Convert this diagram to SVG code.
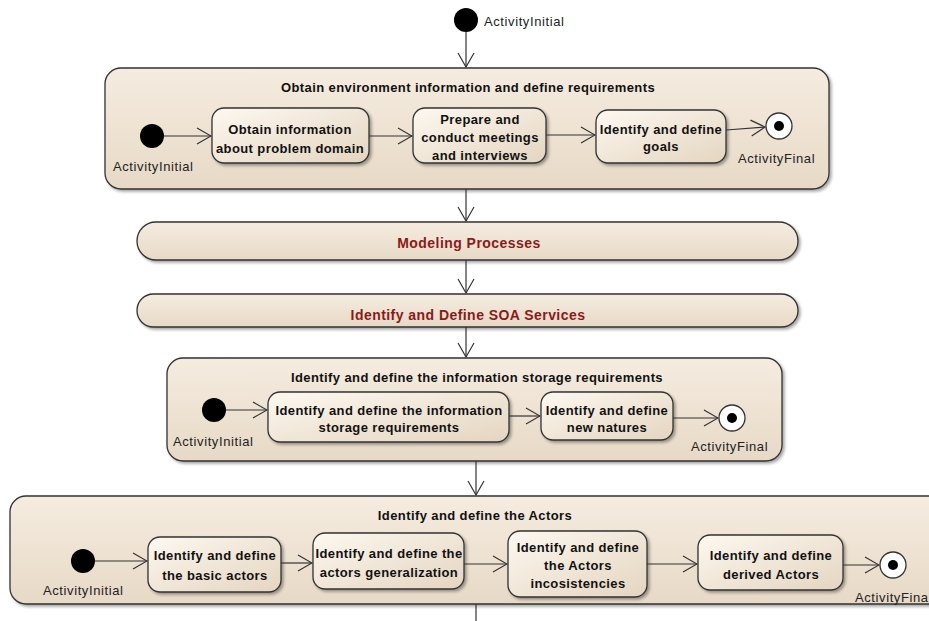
<svg xmlns="http://www.w3.org/2000/svg" width="929" height="621" viewBox="0 0 929 621">
<defs>
<linearGradient id="gC" x1="0" y1="0" x2="0" y2="1"><stop offset="0" stop-color="#f5ece0"/><stop offset="1" stop-color="#e7d9c6"/></linearGradient>
<linearGradient id="gB" x1="0" y1="0" x2="1" y2="1"><stop offset="0" stop-color="#fdf8f0"/><stop offset="1" stop-color="#e4d5c0"/></linearGradient>
<filter id="sh" x="-5%" y="-5%" width="110%" height="120%"><feDropShadow dx="2" dy="2" stdDeviation="1.5" flood-color="#000" flood-opacity="0.35"/></filter>
<marker id="ar" markerUnits="userSpaceOnUse" markerWidth="16" markerHeight="20" refX="15" refY="9" orient="auto"><path d="M1,1 L15,9 L1,17" fill="none" stroke="#333" stroke-width="1.2"/></marker>
</defs>
<style>
.cont{fill:url(#gC);stroke:#333;stroke-width:1.3;filter:url(#sh)}
.box{fill:url(#gB);stroke:#333;stroke-width:1.3;filter:url(#sh)}
.ini{fill:#000}
.fin{fill:#fff;stroke:#333;stroke-width:1.3}
.t{font-family:"Liberation Sans",Arial,sans-serif;font-size:13px;letter-spacing:0.4px;font-weight:bold;fill:#111;text-anchor:middle}
.bt{font-family:"Liberation Sans",Arial,sans-serif;font-size:13px;letter-spacing:0.4px;font-weight:bold;fill:#111;text-anchor:middle}
.lb{font-family:"Liberation Sans",Arial,sans-serif;font-size:13px;letter-spacing:0.6px;fill:#222}
.red{font-family:"Liberation Sans",Arial,sans-serif;font-size:14px;letter-spacing:0.45px;font-weight:bold;fill:#8b1a1a;text-anchor:middle}
.c{fill:none;stroke:#333;stroke-width:1.2}
</style>
<rect width="929" height="621" fill="#fff"/>

<g id="initTop"><circle class="ini" cx="466" cy="20" r="12"/><text class="lb" x="484" y="26">ActivityInitial</text></g>

<g id="obtainEnv">
<rect class="cont" x="105" y="68" width="724" height="121" rx="16"/>
<text class="t" x="468" y="92">Obtain environment information and define requirements</text>
</g>
<g id="init1"><circle class="ini" cx="152" cy="136" r="12"/><text class="lb" x="113" y="171">ActivityInitial</text></g>
<g id="obtainInfo"><rect class="box" x="212" y="108" width="157" height="55" rx="12"/><text class="bt" x="290" y="134">Obtain information</text><text class="bt" x="290" y="153">about problem domain</text></g>
<g id="prepare"><rect class="box" x="413" y="108" width="133" height="55" rx="12"/><text class="bt" x="480" y="124">Prepare and</text><text class="bt" x="480" y="142">conduct meetings</text><text class="bt" x="480" y="160">and interviews</text></g>
<g id="goals"><rect class="box" x="596" y="110" width="130" height="53" rx="12"/><text class="bt" x="661" y="134">Identify and define</text><text class="bt" x="661" y="151">goals</text></g>
<g id="final1"><circle class="fin" cx="779" cy="126" r="13"/><circle class="ini" cx="779" cy="126" r="5"/><text class="lb" x="738" y="163">ActivityFinal</text></g>

<g id="modeling"><rect class="cont" x="137" y="222" width="661" height="38" rx="19"/><text class="red" x="469" y="248">Modeling Processes</text></g>
<g id="soa"><rect class="cont" x="137" y="294" width="661" height="33" rx="16.5"/><text class="red" x="468" y="320">Identify and Define SOA Services</text></g>

<g id="storage">
<rect class="cont" x="167" y="358" width="615" height="103" rx="16"/>
<text class="t" x="477" y="382">Identify and define the information storage requirements</text>
</g>
<g id="init3"><circle class="ini" cx="214" cy="410" r="12"/><text class="lb" x="173" y="446">ActivityInitial</text></g>
<g id="storageReq"><rect class="box" x="268" y="392" width="241" height="50" rx="12"/><text class="bt" x="389" y="415">Identify and define the information</text><text class="bt" x="389" y="432">storage requirements</text></g>
<g id="natures"><rect class="box" x="541" y="392" width="132" height="48" rx="12"/><text class="bt" x="607" y="415">Identify and define</text><text class="bt" x="607" y="432">new natures</text></g>
<g id="final3"><circle class="fin" cx="732" cy="418" r="13"/><circle class="ini" cx="732" cy="418" r="5"/><text class="lb" x="691" y="451">ActivityFinal</text></g>

<g id="actors">
<rect class="cont" x="10" y="496" width="935" height="108" rx="16"/>
<text class="t" x="475" y="520">Identify and define the Actors</text>
</g>
<g id="init4"><circle class="ini" cx="83" cy="561" r="12"/><text class="lb" x="43" y="595">ActivityInitial</text></g>
<g id="basic"><rect class="box" x="148" y="537" width="133" height="55" rx="12"/><text class="bt" x="215" y="560">Identify and define</text><text class="bt" x="215" y="580">the basic actors</text></g>
<g id="general"><rect class="box" x="313" y="533" width="151" height="56" rx="12"/><text class="bt" x="389" y="558">Identify and define the</text><text class="bt" x="389" y="577">actors generalization</text></g>
<g id="incons"><rect class="box" x="508" y="531" width="139" height="66" rx="12"/><text class="bt" x="578" y="552">Identify and define</text><text class="bt" x="578" y="570">the Actors</text><text class="bt" x="578" y="588">incosistencies</text></g>
<g id="derived"><rect class="box" x="698" y="535" width="145" height="55" rx="12"/><text class="bt" x="771" y="560">Identify and define</text><text class="bt" x="771" y="579">derived Actors</text></g>
<g id="final4"><circle class="fin" cx="893" cy="565" r="13"/><circle class="ini" cx="893" cy="565" r="5"/><text class="lb" x="855" y="602">ActivityFinal</text></g>

<g id="connectors">
<line class="c" x1="466" y1="32" x2="466" y2="67" marker-end="url(#ar)"/>
<line class="c" x1="164" y1="136" x2="211" y2="136" marker-end="url(#ar)"/>
<line class="c" x1="369" y1="136" x2="412" y2="136" marker-end="url(#ar)"/>
<line class="c" x1="546" y1="135" x2="595" y2="135" marker-end="url(#ar)"/>
<line class="c" x1="726" y1="130" x2="765" y2="127" marker-end="url(#ar)"/>
<line class="c" x1="466" y1="189" x2="466" y2="221" marker-end="url(#ar)"/>
<line class="c" x1="466" y1="260" x2="466" y2="293" marker-end="url(#ar)"/>
<line class="c" x1="466" y1="327" x2="466" y2="357" marker-end="url(#ar)"/>
<line class="c" x1="226" y1="410" x2="267" y2="410" marker-end="url(#ar)"/>
<line class="c" x1="509" y1="416" x2="540" y2="416" marker-end="url(#ar)"/>
<line class="c" x1="673" y1="418" x2="718" y2="418" marker-end="url(#ar)"/>
<line class="c" x1="476" y1="461" x2="476" y2="495" marker-end="url(#ar)"/>
<line class="c" x1="95" y1="561" x2="147" y2="561" marker-end="url(#ar)"/>
<line class="c" x1="281" y1="563" x2="312" y2="563" marker-end="url(#ar)"/>
<line class="c" x1="464" y1="564" x2="507" y2="564" marker-end="url(#ar)"/>
<line class="c" x1="647" y1="564" x2="697" y2="564" marker-end="url(#ar)"/>
<line class="c" x1="843" y1="565" x2="879" y2="565" marker-end="url(#ar)"/>
<line class="c" x1="476" y1="604" x2="476" y2="621"/>
</g>
</svg>
